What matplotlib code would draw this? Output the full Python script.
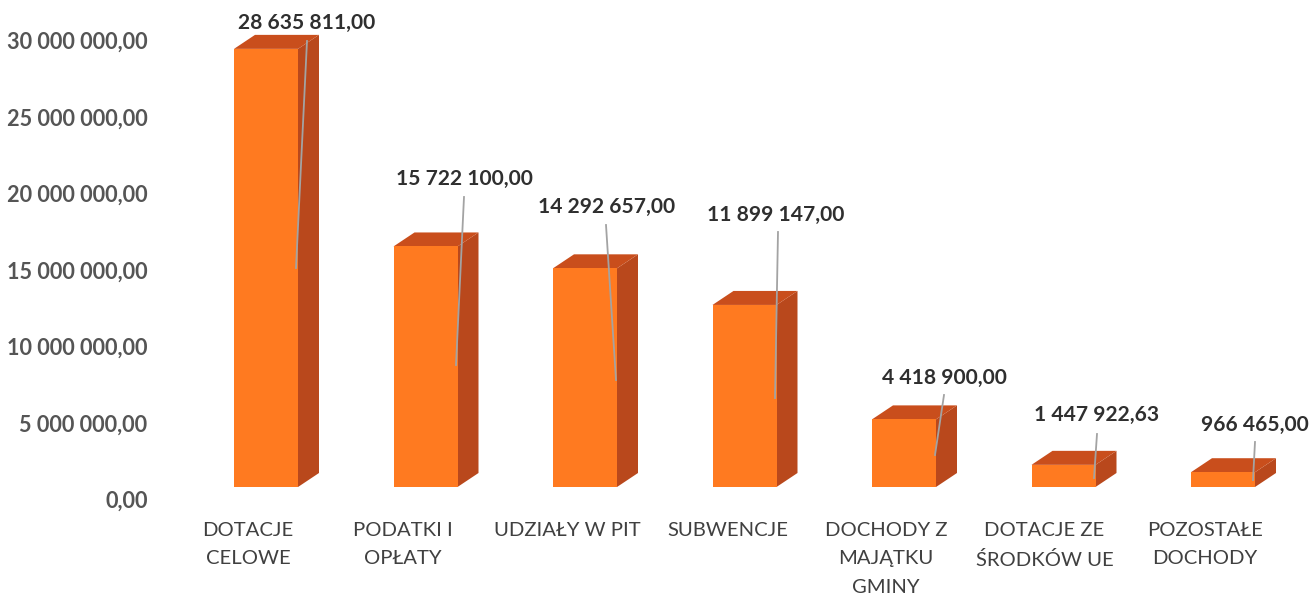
import matplotlib
matplotlib.use('Agg')
import matplotlib.pyplot as plt
from matplotlib.lines import Line2D
from matplotlib.patches import Polygon
from matplotlib.transforms import ScaledTranslation

categories = ['DOTACJE\nCELOWE', 'PODATKI I\nOPŁATY', 'UDZIAŁY W PIT', 'SUBWENCJE',
              'DOCHODY Z\nMAJĄTKU\nGMINY', 'DOTACJE ZE\nŚRODKÓW UE', 'POZOSTAŁE\nDOCHODY']
values = [28635811.00, 15722100.00, 14292657.00, 11899147.00, 4418900.00, 1447922.63, 966465.00]
value_labels = ['28 635 811,00', '15 722 100,00', '14 292 657,00', '11 899 147,00',
                '4 418 900,00', '1 447 922,63', '966 465,00']
y_ticks = [0, 5000000, 10000000, 15000000, 20000000, 25000000, 30000000]
y_tick_labels = ['0,00', '5 000 000,00', '10 000 000,00', '15 000 000,00',
                 '20 000 000,00', '25 000 000,00', '30 000 000,00']

# pixel layout of the value labels and their leader lines (x, y from top left)
label_pos = [(307, 23), (464, 179), (607, 207), (776, 215), (944, 378), (1097, 415), (1255, 425)]
leader_start = [(307, 41), (464, 197), (606, 225), (778, 232), (944, 395), (1097, 434), (1255, 442)]
leader_end = [(296, 268), (456, 365), (616, 380), (775, 398), (935, 455), (1094, 478), (1253, 480)]
cat_shift = [-18, -23, -18, -17, -18, -19, -18]

W, H = 1314, 599
PX_PER_CAT = 159.5
PX_PER_UNIT = 15.3e-6
LEFT, BASE = 160, 487
FIRST_CENTER = 266

plt.rcParams['font.family'] = ['Lato', 'DejaVu Sans']

fig = plt.figure(figsize=(W / 100, H / 100), dpi=100)
ax = fig.add_axes([LEFT / W, (H - BASE) / H, (W - LEFT) / W, BASE / H])
ax.set_xlim((LEFT - FIRST_CENTER) / PX_PER_CAT, (W - FIRST_CENTER) / PX_PER_CAT)
ax.set_ylim(0, BASE / PX_PER_UNIT)
for s in ax.spines.values():
    s.set_visible(False)

bar_w = 64 / PX_PER_CAT
depth_x = 21 / PX_PER_CAT
depth_y = 14 / PX_PER_UNIT
xs = list(range(len(values)))

ax.bar(xs, values, width=bar_w, color='#FF7A20', zorder=3, clip_on=False)
for x, v in zip(xs, values):
    r = x + bar_w / 2
    l = x - bar_w / 2
    # bok i wierzch slupka
    ax.add_patch(Polygon([(r, 0), (r + depth_x, depth_y), (r + depth_x, v + depth_y), (r, v)],
                         color='#B9481C', lw=0, zorder=2))
    ax.add_patch(Polygon([(l, v), (l + depth_x, v + depth_y), (r + depth_x, v + depth_y), (r, v)],
                         color='#C94E1C', lw=0, zorder=2))

ax.set_yticks(y_ticks)
ax.set_yticklabels(y_tick_labels, fontsize=15.6, fontweight='bold', color='#555555')
ax.tick_params(axis='y', length=0, pad=9)
ax.set_xticks(xs)
ax.set_xticklabels(categories, fontsize=14.6, color='#404040', linespacing=1.82)
ax.tick_params(axis='x', length=0, pad=25)

# etykiety osi sa przesuniete wzgledem podstawy slupkow
y_shift = ScaledTranslation(0, -12.5 / 100, fig.dpi_scale_trans)
for lab in ax.get_yticklabels():
    lab.set_transform(lab.get_transform() + y_shift)
for lab, dx in zip(ax.get_xticklabels(), cat_shift):
    lab.set_transform(lab.get_transform() + ScaledTranslation(dx / 100, 0, fig.dpi_scale_trans))

for text, (lx, ly), (x0, y0), (x1, y1) in zip(value_labels, label_pos, leader_start, leader_end):
    fig.text(lx / W, 1 - ly / H, text, ha='center', va='center', fontsize=15.1,
             fontweight='bold', color='#2f2f2f')
    fig.add_artist(Line2D([x0, x1], [H - y0, H - y1], transform=None, color='#a3a3a3', lw=1.3, zorder=5))

fig.savefig('out.png', dpi=100)
plt.close(fig)
